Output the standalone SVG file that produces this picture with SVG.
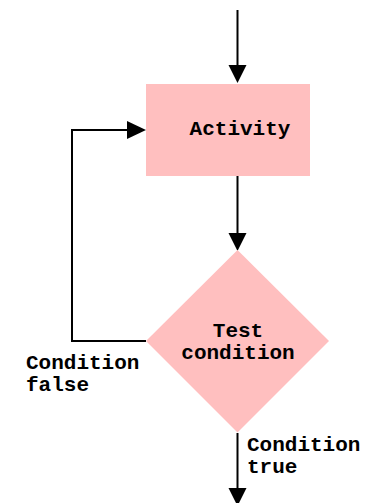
<svg xmlns="http://www.w3.org/2000/svg" width="369" height="503" viewBox="0 0 369 503">
<style>
.line{stroke:#000;stroke-width:2;fill:none}
.head{fill:#000}
.node{fill:#ffbfbf}
.lbl{font-family:"Liberation Mono","Courier New",monospace;font-weight:bold;font-size:21px;fill:#000}
</style>
<rect width="369" height="503" fill="#fff"/>
<g id="connectors">
<line class="line" x1="237.5" y1="10" x2="237.5" y2="66"/>
<polygon class="head" points="228.5,65 246.5,65 237.5,83"/>
<line class="line" x1="237.5" y1="176" x2="237.5" y2="234"/>
<polygon class="head" points="228.5,233 246.5,233 237.5,251"/>
<polyline class="line" points="146,341 72,341 72,130 128,130"/>
<polygon class="head" points="127,121 127,139 146,130"/>
<line class="line" x1="237.5" y1="433" x2="237.5" y2="490"/>
<polygon class="head" points="228.5,488 246.5,488 237.5,506"/>
</g>
<g id="activity">
<rect class="node" x="146" y="84" width="164" height="92"/>
<text class="lbl" x="240" y="135" text-anchor="middle">Activity</text>
</g>
<g id="test">
<polygon class="node" points="237.5,250 329,341 237.5,432.5 146,341"/>
<text class="lbl" x="238" y="337" text-anchor="middle">Test</text>
<text class="lbl" x="238" y="359" text-anchor="middle">condition</text>
</g>
<g id="labels">
<text class="lbl" x="26" y="369">Condition</text>
<text class="lbl" x="26" y="391">false</text>
<text class="lbl" x="247" y="451">Condition</text>
<text class="lbl" x="247" y="473">true</text>
</g>
</svg>
